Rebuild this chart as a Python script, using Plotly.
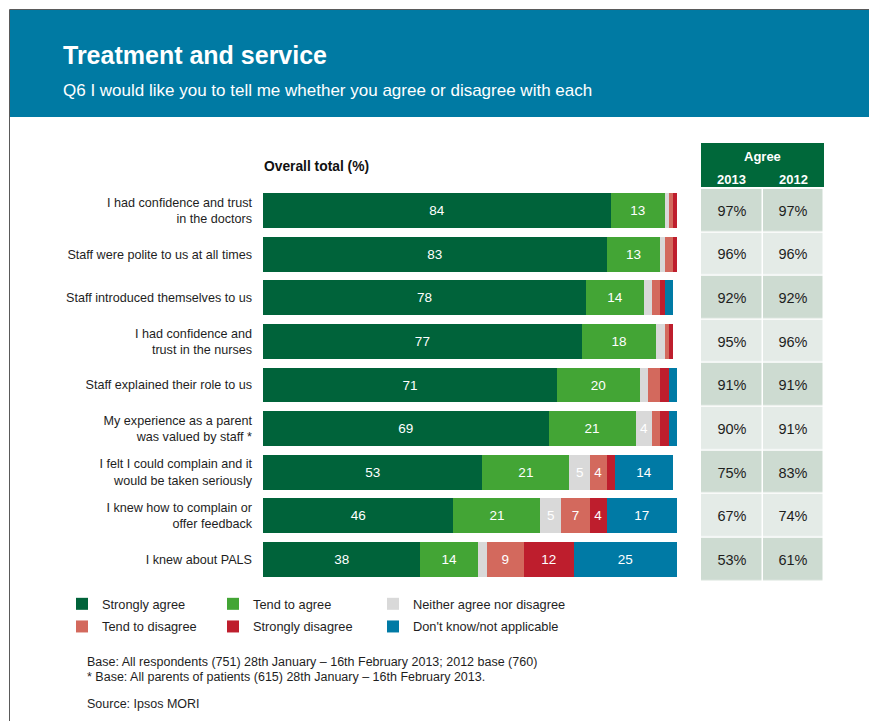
import plotly.graph_objects as go

W, H = 869, 721

# ---- data -------------------------------------------------------------
statements = [
    "I had confidence and trust<br>in the doctors",
    "Staff were polite to us at all times",
    "Staff introduced themselves to us",
    "I had confidence and<br>trust in the nurses",
    "Staff explained their role to us",
    "My experience as a parent<br>was valued by staff *",
    "I felt I could complain and it<br>would be taken seriously",
    "I knew how to complain or<br>offer feedback",
    "I knew about PALS",
]

strongly_agree = [84, 83, 78, 77, 71, 69, 53, 46, 38]
tend_to_agree = [13, 13, 14, 18, 20, 21, 21, 21, 14]
neither = [1, 1, 2, 2, 2, 4, 5, 5, 2]
tend_to_disagree = [1, 2, 2, 1, 3, 2, 4, 7, 9]
strongly_disagree = [1, 1, 1, 1, 2, 2, 2, 4, 12]
dont_know = [0, 0, 2, 0, 2, 2, 14, 17, 25]

agree_2013 = [97, 96, 92, 95, 91, 90, 75, 67, 53]
agree_2012 = [97, 96, 92, 96, 91, 91, 83, 74, 61]
years = ["2013", "2012"]

# legend column for each series (three columns of two entries)
series = [
    ("Strongly agree", strongly_agree, "#00633A", "legend"),
    ("Tend to agree", tend_to_agree, "#43A535", "legend2"),
    ("Neither agree nor disagree", neither, "#D9D9D9", "legend3"),
    ("Tend to disagree", tend_to_disagree, "#D3695D", "legend"),
    ("Strongly disagree", strongly_disagree, "#BE1E2D", "legend2"),
    ("Don't know/not applicable", dont_know, "#007AA5", "legend3"),
]


def px_x(x):
    return x / W


def px_y(y):
    return 1 - y / H


FONT = "Liberation Sans, Arial, Helvetica, sans-serif"
INK = "#1E1E1E"

fig = go.Figure()

# ---- stacked bars -----------------------------------------------------
for name, vals, color, leg in series:
    fig.add_trace(go.Bar(
        name=name,
        y=statements,
        x=vals,
        orientation="h",
        width=0.8,
        marker=dict(color=color, line=dict(width=0)),
        text=[str(v) if v >= 4 else "" for v in vals],
        textposition="inside",
        insidetextanchor="middle",
        textangle=0,
        textfont=dict(color="white", size=13.5, family=FONT),
        hoverinfo="x+name",
        legend=leg,
        legendgroup=name,
        xaxis="x",
        yaxis="y",
    ))

# ---- agree table (2013 / 2012) ---------------------------------------
shade = [[i % 2, i % 2] for i in range(len(statements))]
cell_text = [[f"{a}%", f"{b}%"] for a, b in zip(agree_2013, agree_2012)]
fig.add_trace(go.Heatmap(
    x=years,
    y=statements,
    z=shade,
    text=cell_text,
    texttemplate="%{text}",
    textfont=dict(size=14.5, color=INK, family=FONT),
    colorscale=[[0, "#CDDBD1"], [1, "#E4EBE7"]],
    zmin=0, zmax=1,
    showscale=False,
    xgap=1.5,
    ygap=1.5,
    hoverinfo="skip",
    showlegend=False,
    xaxis="x2",
    yaxis="y",
))

y_top, y_bot = 188.7, 581.3

legend_style = dict(
    orientation="v", yanchor="middle", xanchor="left",
    y=px_y(615.5), traceorder="grouped", tracegroupgap=3,
    font=dict(size=12.8, color=INK, family=FONT),
    bgcolor="rgba(0,0,0,0)",
)

fig.update_layout(
    width=W, height=H,
    margin=dict(l=0, r=0, t=0, b=0),
    paper_bgcolor="white",
    plot_bgcolor="rgba(0,0,0,0)",
    barmode="stack",
    bargap=0.2,
    font=dict(family=FONT, color=INK),
    xaxis=dict(domain=[px_x(263), px_x(677)], range=[0, 100],
               visible=False, fixedrange=True),
    xaxis2=dict(domain=[px_x(701), px_x(824)], range=[-0.5, 1.5],
                type="category", visible=False, anchor="y",
                fixedrange=True),
    yaxis=dict(domain=[px_y(y_bot), px_y(y_top)], range=[8.5, -0.5],
               type="category", showgrid=False, zeroline=False,
               showline=False, ticks="", ticklabelstandoff=10,
               tickfont=dict(size=12.6, color=INK, family=FONT),
               fixedrange=True),
    legend=dict(x=px_x(62), **legend_style),
    legend2=dict(x=px_x(213), **legend_style),
    legend3=dict(x=px_x(373), **legend_style),
)

shapes = [
    # header band
    dict(type="rect", xref="paper", yref="paper",
         x0=px_x(10), x1=1, y0=px_y(117), y1=px_y(10),
         fillcolor="#007AA3", line=dict(width=0), layer="below"),
    # page frame on the left and top
    dict(type="path", xref="paper", yref="paper",
         path=f"M {px_x(9.5)},0 L {px_x(9.5)},{px_y(9.5)} L 1,{px_y(9.5)}",
         line=dict(color="#5A5A5A", width=1)),
    # table header block
    dict(type="rect", xref="paper", yref="paper",
         x0=px_x(701), x1=px_x(824), y0=px_y(187), y1=px_y(143),
         fillcolor="#00683A", line=dict(width=0)),
]


def note(text, x, y, size, color=INK, anchor="left"):
    return dict(text=text, xref="paper", yref="paper", x=px_x(x), y=px_y(y),
                xanchor=anchor, yanchor="middle", showarrow=False,
                font=dict(size=size, color=color, family=FONT))


annotations = [
    note("<b>Treatment and service</b>", 61, 55, 25, "white"),
    note("Q6 I would like you to tell me whether you agree or disagree with each",
         61, 91, 17, "white"),
    note("<b>Overall total (%)</b>", 262, 166, 13.8, "#111111"),
    note("<b>Agree</b>", 762.5, 156, 13, "white", "center"),
    note("Base: All respondents (751) 28th January \u2013 16th February 2013; 2012 base (760)",
         85, 662, 12.5),
    note("* Base: All parents of patients (615) 28th January \u2013 16th February 2013.",
         85, 677, 12.5),
    note("Source: Ipsos MORI", 85, 704, 12.5),
]

for i, yr in enumerate(years):
    annotations.append(dict(
        text=f"<b>{yr}</b>", xref="x2", yref="paper", x=i, y=px_y(179),
        xanchor="center", yanchor="middle", showarrow=False,
        font=dict(size=13, color="white", family=FONT)))

fig.update_layout(shapes=shapes, annotations=annotations)

fig.write_html("out.html")
